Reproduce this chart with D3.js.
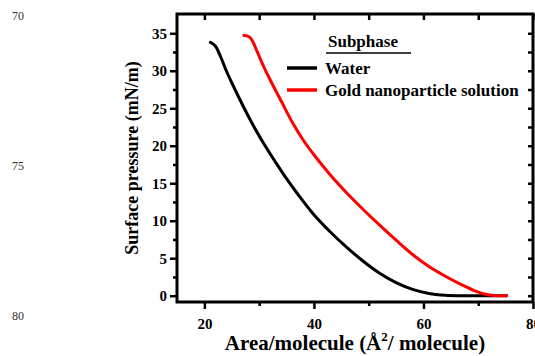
<!DOCTYPE html>
<html>
<head>
<meta charset="utf-8">
<script src="https://cdn.jsdelivr.net/npm/d3@7"></script>
<style>
	body { margin: 0; background: #fff; }
	svg { display: block; font-family: "Liberation Serif", "Times New Roman", serif; }
</style>
</head>
<body>
<svg id="chart" width="535" height="356"></svg>
<script>
'use strict'

// isotherm: area (A^2/molecule) vs surface pressure (mN/m)
var waterArea = [21.1, 22.0, 23.0, 24.0, 25.0, 27.0, 29.0, 31.0, 33.0, 35.0, 37.0, 40.0, 43.0, 46.0, 49.0, 52.0, 55.0, 58.0, 61.0, 64.0, 67.0, 75.2];
var waterPressure = [33.8, 33.3, 31.8, 30.0, 28.4, 25.4, 22.6, 20.1, 17.8, 15.6, 13.6, 10.8, 8.5, 6.45, 4.6, 3.0, 1.75, 0.85, 0.3, 0.06, 0.0, 0.0];

var goldArea = [27.2, 28.0, 28.6, 29.5, 30.5, 32.0, 34.0, 36.0, 38.0, 40.0, 43.0, 46.0, 49.0, 52.0, 55.0, 58.0, 61.0, 64.0, 67.0, 69.5, 71.5, 73.0, 75.2];
var goldPressure = [34.7, 34.6, 34.2, 32.8, 31.1, 28.8, 26.0, 23.2, 20.8, 18.8, 16.1, 13.7, 11.5, 9.4, 7.4, 5.5, 3.9, 2.6, 1.45, 0.6, 0.15, 0.03, 0.0];

var seriesNames = ["Water", "Gold nanoparticle solution"];
var seriesColors = ["#000000", "#ff0000"];

var xTicks = [20, 40, 60, 80];
var xMinor = [30, 50, 70];
var yTicks = [0, 5, 10, 15, 20, 25, 30, 35];
var yMinor = [2.5, 7.5, 12.5, 17.5, 22.5, 27.5, 32.5];
var lineNumbers = [70, 75, 80];

/* ============================== layout ============================== */
var svg = d3.select('#chart');
var plotLeft = 177, plotRight = 533, plotTop = 14, plotBottom = 302;

var x = d3.scaleLinear().domain([15, 80]).range([plotLeft, plotRight]);
var y = d3.scaleLinear().domain([-0.84, 37.57]).range([plotBottom, plotTop]);

// stray line numbers from the page margin
svg.selectAll('.lineno').data(lineNumbers).enter()
	.append('text')
	.attr('x', 12)
	.attr('y', function(d, i){ return 20 + i * 150; })
	.style('font-size', '12px')
	.style('fill', '#333')
	.text(function(d){ return d; });

/* ============================== axes ============================== */
function drawAxis(axis, transform, labels){
	var g = svg.append('g').attr('transform', transform).call(axis);
	g.select('.domain').remove();
	g.selectAll('line').attr('stroke', '#000').attr('stroke-width', 2.5);
	g.selectAll('text')
		.style('font-size', '15px')
		.style('font-weight', 'bold')
		.style('font-family', '"Liberation Serif", serif')
		.attr('fill', '#000');
	if(!labels){
		g.selectAll('text').remove();
	}
	return g;
}

// bottom, labelled
drawAxis(d3.axisBottom(x).tickValues(xTicks).tickSize(7).tickPadding(9).tickFormat(d3.format('d')), 'translate(0,' + plotBottom + ')', true);
drawAxis(d3.axisBottom(x).tickValues(xMinor).tickSize(4), 'translate(0,' + plotBottom + ')', false);
// left, labelled
drawAxis(d3.axisLeft(y).tickValues(yTicks).tickSize(7).tickPadding(3).tickFormat(d3.format('d')), 'translate(' + plotLeft + ',0)', true);
drawAxis(d3.axisLeft(y).tickValues(yMinor).tickSize(4), 'translate(' + plotLeft + ',0)', false);
// top and right, ticks pointing inward
drawAxis(d3.axisBottom(x).tickValues(xTicks.concat(xMinor)).tickSize(6), 'translate(0,' + plotTop + ')', false);
drawAxis(d3.axisLeft(y).tickValues(yTicks.concat(yMinor)).tickSize(5), 'translate(' + plotRight + ',0)', false);

// frame
svg.append('rect')
	.attr('x', plotLeft).attr('y', plotTop)
	.attr('width', plotRight - plotLeft).attr('height', plotBottom - plotTop)
	.attr('fill', 'none').attr('stroke', '#000').attr('stroke-width', 3);

/* ============================== curves ============================== */
var line = d3.line()
	.x(function(d){ return x(d[0]); })
	.y(function(d){ return y(d[1]); })
	.curve(d3.curveCatmullRom.alpha(0.5));

var series = [d3.zip(waterArea, waterPressure), d3.zip(goldArea, goldPressure)];

svg.selectAll('.curve').data(series).enter()
	.append('path')
	.attr('class', 'curve')
	.attr('d', line)
	.attr('fill', 'none')
	.attr('stroke', function(d, i){ return seriesColors[i]; })
	.attr('stroke-width', 3)
	.attr('stroke-linecap', 'round')
	.attr('stroke-linejoin', 'round');

/* ============================== legend ============================== */
svg.append('text')
	.attr('x', 328).attr('y', 47)
	.style('font-size', '17px').style('font-weight', 'bold')
	.text('Subphase');
svg.append('line')
	.attr('x1', 326).attr('x2', 411).attr('y1', 53).attr('y2', 53)
	.attr('stroke', '#000').attr('stroke-width', 1.5);

var legend = svg.selectAll('.legend').data(seriesNames).enter()
	.append('g')
	.attr('transform', function(d, i){ return 'translate(287,' + (68 + i * 22) + ')'; });
legend.append('line')
	.attr('x1', 0).attr('x2', 30)
	.attr('stroke', function(d, i){ return seriesColors[i]; })
	.attr('stroke-width', 3.5);
legend.append('text')
	.attr('x', 38).attr('y', 5.5)
	.style('font-size', '17px').style('font-weight', 'bold')
	.text(function(d){ return d; });

/* ============================== axis titles ============================== */
var xTitle = svg.append('text')
	.attr('x', (plotLeft + plotRight) / 2).attr('y', 350)
	.attr('text-anchor', 'middle')
	.style('font-size', '21px').style('font-weight', 'bold');
xTitle.append('tspan').text('Area/molecule (\u00C5');
xTitle.append('tspan').attr('dy', -9).style('font-size', '13px').text('2');
xTitle.append('tspan').attr('dy', 9).text('/ molecule)');

svg.append('text')
	.attr('transform', 'translate(138,' + ((plotTop + plotBottom) / 2) + ') rotate(-90)')
	.attr('text-anchor', 'middle')
	.style('font-size', '18px').style('font-weight', 'bold')
	.text('Surface pressure (mN/m)');
</script>
</body>
</html>
